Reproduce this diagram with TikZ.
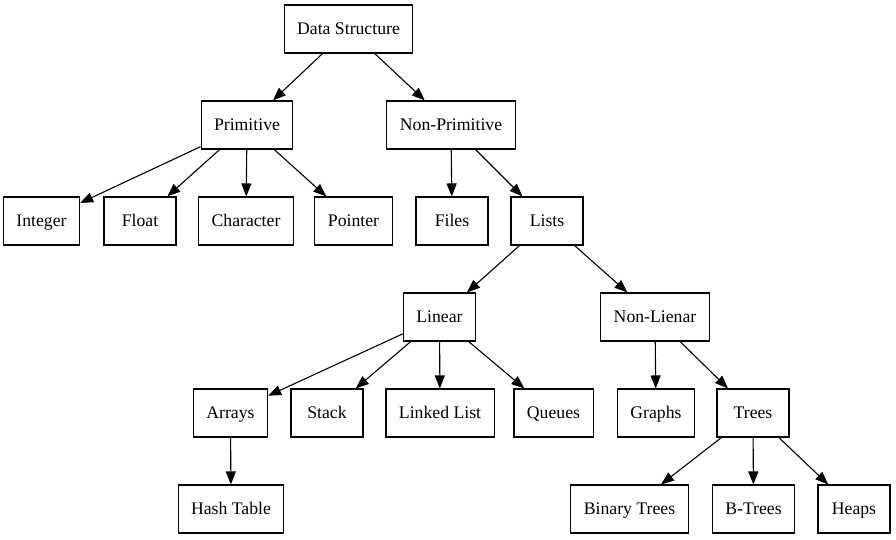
\documentclass[tikz,border=0pt]{standalone}
\usepackage{fontspec}
\setmainfont{Liberation Serif}
\usetikzlibrary{arrows.meta}
\begin{document}
\begin{tikzpicture}[x=1pt,y=-1pt,
  box/.style={draw=black,line width=1.1pt,rectangle,minimum width=72pt,minimum height=48pt,inner xsep=13pt,text height=14pt,text depth=2.5pt,font=\fontsize{17.7}{20}\selectfont},
  edge/.style={draw=black,line width=1.1pt,-{Triangle[length=13pt,width=10pt]}}]
\useasboundingbox (0,0) rectangle (896,539);
\node[box] (ds) at (348.5,29) {Data Structure};
\node[box] (prim) at (247,125) {Primitive};
\node[box] (nprim) at (451,125) {Non-Primitive};
\node[box] (int) at (41.5,221) {Integer};
\node[box] (flt) at (140,221) {Float};
\node[box] (chr) at (246,221) {Character};
\node[box] (ptr) at (353.5,221) {Pointer};
\node[box] (files) at (452,221) {Files};
\node[box] (lists) at (547,221) {Lists};
\node[box] (lin) at (439.5,317) {Linear};
\node[box] (nlin) at (655,317) {Non-Lienar};
\node[box] (arr) at (230.5,413) {Arrays};
\node[box] (stk) at (327,413) {Stack};
\node[box] (ll) at (440,413) {Linked List};
\node[box] (que) at (553.5,413) {Queues};
\node[box] (gr) at (656,413) {Graphs};
\node[box] (tr) at (753,413) {Trees};
\node[box] (ht) at (231,509) {Hash Table};
\node[box] (bt) at (629.5,509) {Binary Trees};
\node[box] (btr) at (753.5,509) {B-Trees};
\node[box] (hp) at (854,509) {Heaps};
\draw[edge] (ds) -- (prim);
\draw[edge] (ds) -- (nprim);
\draw[edge] (prim) -- (int);
\draw[edge] (prim) -- (flt);
\draw[edge] (prim) -- (chr);
\draw[edge] (prim) -- (ptr);
\draw[edge] (nprim) -- (files);
\draw[edge] (nprim) -- (lists);
\draw[edge] (lists) -- (lin);
\draw[edge] (lists) -- (nlin);
\draw[edge] (lin) -- (arr);
\draw[edge] (lin) -- (stk);
\draw[edge] (lin) -- (ll);
\draw[edge] (lin) -- (que);
\draw[edge] (nlin) -- (gr);
\draw[edge] (nlin) -- (tr);
\draw[edge] (arr) -- (ht);
\draw[edge] (tr) -- (bt);
\draw[edge] (tr) -- (btr);
\draw[edge] (tr) -- (hp);
\end{tikzpicture}
\end{document}
